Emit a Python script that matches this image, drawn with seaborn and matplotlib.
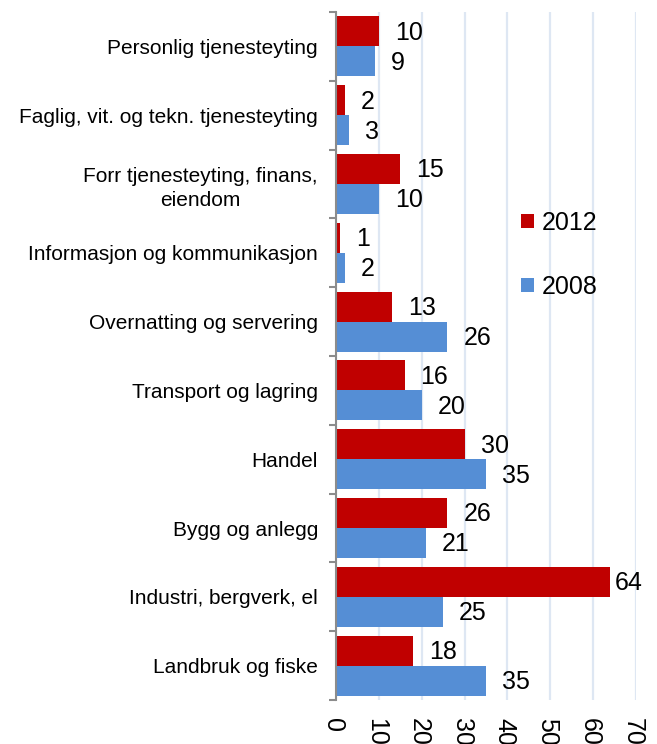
import matplotlib
matplotlib.use("Agg")
import matplotlib.pyplot as plt
import matplotlib.transforms as mtransforms
from matplotlib.patches import Patch
from matplotlib.ticker import FixedLocator
import seaborn as sns
import pandas as pd

categories = [
    "Personlig tjenesteyting",
    "Faglig, vit. og tekn. tjenesteyting",
    "Forr tjenesteyting, finans,\neiendom",
    "Informasjon og kommunikasjon",
    "Overnatting og servering",
    "Transport og lagring",
    "Handel",
    "Bygg og anlegg",
    "Industri, bergverk, el",
    "Landbruk og fiske",
]
values_2012 = [10, 2, 15, 1, 13, 16, 30, 26, 64, 18]
values_2008 = [9, 3, 10, 2, 26, 20, 35, 21, 25, 35]
series = ["2012", "2008"]
colors = ["#C00000", "#558ED5"]
x_ticks = [0, 10, 20, 30, 40, 50, 60, 70]

df = pd.DataFrame({
    "category": categories * 2,
    "value": values_2012 + values_2008,
    "year": [series[0]] * len(categories) + [series[1]] * len(categories),
})

sns.set_theme(style="white")
plt.rcParams["font.family"] = ["Liberation Sans", "DejaVu Sans"]
plt.rcParams["text.color"] = "black"
plt.rcParams["xtick.color"] = "black"
plt.rcParams["ytick.color"] = "black"

fig = plt.figure(figsize=(6.57, 7.44), dpi=100)
ax = fig.add_axes([336 / 657, 44 / 744, 300 / 657, 688 / 744])

sns.barplot(data=df, x="value", y="category", hue="year", hue_order=series,
            palette=colors, orient="h", width=0.87, saturation=1,
            linewidth=0, legend=False, ax=ax)

ax.set_xlim(x_ticks[0], x_ticks[-1])
ax.set_ylim(len(categories) - 0.5, -0.5)
ax.set_xlabel("")
ax.set_ylabel("")

# grid
ax.xaxis.set_major_locator(FixedLocator(x_ticks))
ax.set_axisbelow(True)
ax.grid(axis="x", color="#DEE7F3", linewidth=1.6)
ax.grid(axis="y", visible=False)

for s in ["top", "right", "bottom"]:
    ax.spines[s].set_visible(False)
ax.spines["left"].set_color("#8C8C8C")
ax.spines["left"].set_linewidth(1.5)

ax.tick_params(axis="x", which="major", length=4, width=1.6, color="#DEE7F3",
               pad=9, labelsize=18, labelcolor="black")
shift = mtransforms.ScaledTranslation(-3 / 100, 0, fig.dpi_scale_trans)
for lbl in ax.get_xticklabels():
    lbl.set_rotation(-90)
    lbl.set_va("top")
    lbl.set_ha("center")
    lbl.set_transform(lbl.get_transform() + shift)

ax.yaxis.set_minor_locator(FixedLocator([i - 0.5 for i in range(len(categories) + 1)]))
ax.tick_params(axis="y", which="major", length=0, pad=13, labelsize=15, labelcolor="black")
ax.tick_params(axis="y", which="minor", length=5, width=1.5, color="#8C8C8C", left=True)
for lbl in ax.get_yticklabels():
    lbl.set_multialignment("center")
    lbl.set_linespacing(1.3)

# value labels
for cont in ax.containers:
    for bar in cont:
        v = bar.get_width()
        yc = bar.get_y() + bar.get_height() / 2
        off = 3 if v > 60 else 11.5
        ax.annotate(f"{v:g}", xy=(v, yc), xytext=(off, -1), textcoords="offset points",
                    ha="left", va="center", fontsize=18, color="black")

handles = [Patch(facecolor=c, edgecolor="none") for c in colors]
fig.legend(handles, series, loc="upper left", bbox_to_anchor=(521 / 657, 1 - 211 / 744),
           bbox_transform=fig.transFigure, frameon=False, fontsize=18,
           handlelength=0.52, handleheight=0.52, handletextpad=0.3,
           labelspacing=1.6, borderpad=0, borderaxespad=0, labelcolor="black")

fig.savefig("out.png", dpi=100)
